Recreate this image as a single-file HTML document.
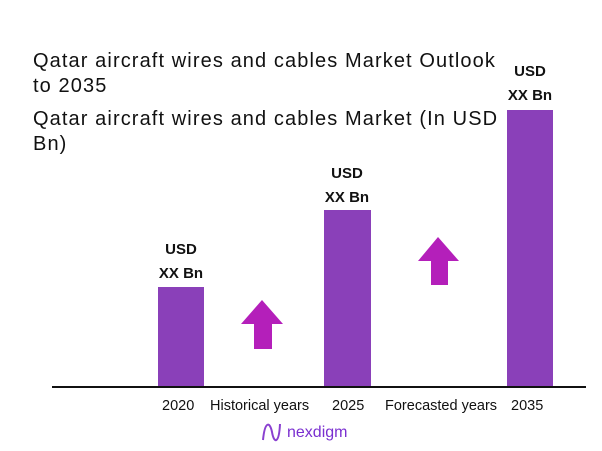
<!DOCTYPE html>
<html><head><style>
body{margin:0;width:602px;height:451px;background:#fff;position:relative;overflow:hidden;font-family:"Liberation Sans",sans-serif;color:#111}
.t{position:absolute;font-size:20px;line-height:25px;letter-spacing:1.1px}
.bar{position:absolute;background:#8a40b9}
.lab{position:absolute;font-weight:bold;font-size:15px;text-align:center;width:90px;line-height:24px}
.x{position:absolute;top:398px;font-size:14.5px}
</style></head><body>
<div class="t" style="left:33px;top:49px">Qatar aircraft wires and cables Market Outlook<br>to 2035</div>
<div class="t" style="left:33px;top:107px">Qatar aircraft wires and cables Market (In USD<br>Bn)</div>
<div class="bar" style="left:158px;top:287px;width:46px;height:100px"></div>
<div class="bar" style="left:324px;top:210px;width:47px;height:177px"></div>
<div class="bar" style="left:507px;top:110px;width:46px;height:277px"></div>
<div class="lab" style="left:136px;top:238px">USD<br>XX Bn</div>
<div class="lab" style="left:302px;top:162px">USD<br>XX Bn</div>
<div class="lab" style="left:485px;top:60px">USD<br>XX Bn</div>
<div style="position:absolute;left:52px;top:386px;width:534px;height:2px;background:#111"></div>
<svg style="position:absolute;left:0;top:0" width="602" height="451">
<polygon points="262,300 283,324 272,324 272,349 254,349 254,324 241,324" fill="#b41fba"/>
<polygon points="438,237 459,261 448,261 448,285 431,285 431,261 418,261" fill="#b41fba"/>
<path d="M263,440 C265,420 270,422 272,432 C274,444 279,444 280,424" stroke="#8a40d0" stroke-width="2" fill="none"/>
</svg>
<div class="x" style="left:162px">2020</div>
<div class="x" style="left:210px">Historical years</div>
<div class="x" style="left:332px">2025</div>
<div class="x" style="left:385px">Forecasted years</div>
<div class="x" style="left:511px">2035</div>
<div style="position:absolute;left:287px;top:424px;font-size:16px;color:#7a2fd0">nexdigm</div>
</body></html>
